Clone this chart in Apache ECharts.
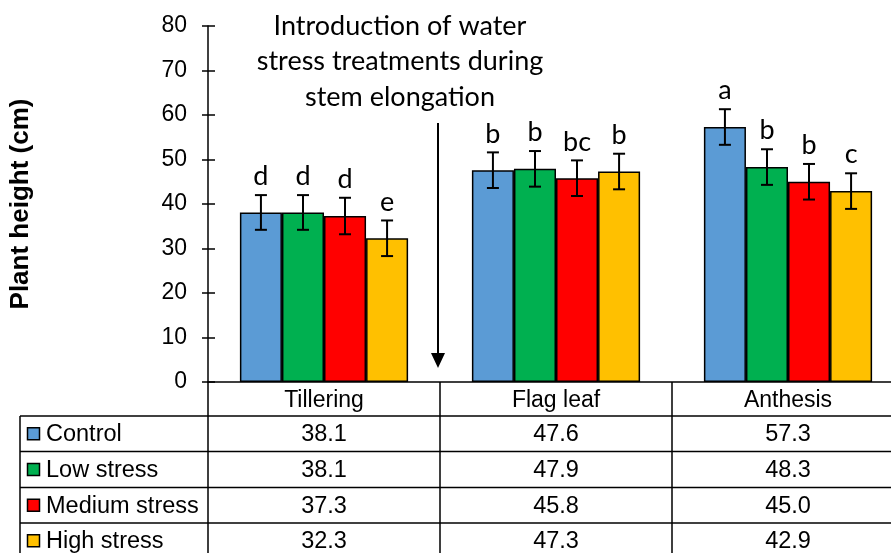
<!DOCTYPE html>
<html><head><meta charset="utf-8">
<script src="https://cdn.jsdelivr.net/npm/echarts@6/dist/echarts.min.js"></script>
<style>html,body{margin:0;padding:0;background:#fff}#c{width:891px;height:553px}</style>
</head><body><div id="c"></div>
<script>
const categories = ['Tillering', 'Flag leaf', 'Anthesis'];
const treatments = ['Control', 'Low stress', 'Medium stress', 'High stress'];
const control = [38.1, 47.6, 57.3];
const lowStress = [38.1, 47.9, 48.3];
const mediumStress = [37.3, 45.8, 45.0];
const highStress = [32.3, 47.3, 42.9];
const controlErr = [3.9, 4.0, 4.0];
const lowStressErr = [3.9, 4.0, 4.0];
const mediumStressErr = [4.1, 4.0, 4.0];
const highStressErr = [4.0, 4.0, 4.0];
const controlLetters = ['d', 'b', 'a'];
const lowStressLetters = ['d', 'b', 'b'];
const mediumStressLetters = ['d', 'bc', 'b'];
const highStressLetters = ['e', 'b', 'c'];
const tableValues = [
  ['38.1', '47.6', '57.3'],
  ['38.1', '47.9', '48.3'],
  ['37.3', '45.8', '45.0'],
  ['32.3', '47.3', '42.9']
];
const annotationLines = ['Introduction of water', 'stress treatments during', 'stem elongation'];
const yTitle = 'Plant height (cm)';

const colors = ['#5B9BD5', '#00B050', '#FF0000', '#FFC000'];
const seriesValues = [control, lowStress, mediumStress, highStress];
const seriesErr = [controlErr, lowStressErr, mediumStressErr, highStressErr];
const seriesLetters = [controlLetters, lowStressLetters, mediumStressLetters, highStressLetters];
const GAP = 0.275;
const ARIAL = 'Liberation Sans, Arial, sans-serif';
const CAL = 'Lato, Carlito, Calibri, sans-serif';

const chart = echarts.init(document.getElementById('c'), null, {renderer: 'canvas'});

const series = [];
seriesValues.forEach((vals, i) => {
  series.push({
    name: treatments[i], type: 'bar', data: vals, barGap: '0%', barCategoryGap: (GAP * 100) + '%',
    itemStyle: {color: colors[i], borderColor: '#000', borderWidth: 1.5},
    z: 2, silent: true
  });
});
seriesValues.forEach((vals, i) => {
  series.push({
    type: 'custom', z: 5, silent: true,
    data: vals.map((v, k) => [k, v, seriesErr[i][k]]),
    renderItem: function (params, api) {
      const k = api.value(0), m = api.value(1), e = api.value(2);
      const c = api.coord([k, m]);
      const bandW = api.size([1, 0])[0];
      const barW = bandW * (1 - GAP) / 4;
      const x = c[0] + (i - 1.5) * barW;
      const yt = api.coord([k, m + e])[1];
      const yb = api.coord([k, m - e])[1];
      const cap = 6;
      const st = {stroke: '#000', lineWidth: 2};
      return {type: 'group', children: [
        {type: 'line', shape: {x1: x, y1: yt, x2: x, y2: yb}, style: st},
        {type: 'line', shape: {x1: x - cap, y1: yt, x2: x + cap, y2: yt}, style: st},
        {type: 'line', shape: {x1: x - cap, y1: yb, x2: x + cap, y2: yb}, style: st},
        {type: 'text', x: x, y: yt - 5, style: {text: seriesLetters[i][params.dataIndex], fill: '#000',
          font: '27px ' + CAL, align: 'center', verticalAlign: 'bottom'}}
      ]};
    }
  });
});

chart.setOption({
  animation: false,
  backgroundColor: '#fff',
  grid: {left: 208, top: 26, width: 696, height: 356, outerBoundsMode: 'none', containLabel: false},
  xAxis: {
    type: 'category', data: categories,
    axisLine: {show: true, lineStyle: {color: '#000', width: 1.5}},
    axisTick: {show: true, length: 180, interval: 0, lineStyle: {color: '#000', width: 1.5}},
    axisLabel: {color: '#000', fontFamily: ARIAL, fontSize: 23, margin: 7, interval: 0},
    splitLine: {show: false}
  },
  yAxis: [{
    type: 'value', min: 0, max: 80, interval: 10,
    name: yTitle, nameLocation: 'middle', nameGap: 174,
    nameTextStyle: {color: '#000', fontFamily: ARIAL, fontSize: 26, fontWeight: 'bold'},
    axisLine: {show: true, lineStyle: {color: '#000', width: 1.5}},
    axisTick: {show: true, length: 6, lineStyle: {color: '#000', width: 1.5}},
    axisLabel: {color: '#000', fontFamily: ARIAL, fontSize: 23, margin: 21},
    splitLine: {show: false}
  }, {
    type: 'value', min: 0, max: 80, interval: 10, position: 'left',
    axisLine: {show: false},
    axisTick: {show: true, inside: true, length: 7, lineStyle: {color: '#000', width: 1.5}},
    axisLabel: {show: false}, splitLine: {show: false}
  }],
  series: series
});

// table & annotations
const rowLines = [416, 451.5, 487.5, 523, 558.5];
const g = [];
const lineSt = {stroke: '#000', lineWidth: 1.5};
for (let r = 0; r < 4; r++) {
  g.push({type: 'line', shape: {x1: 20, y1: rowLines[r], x2: 905, y2: rowLines[r]}, style: lineSt, z: 10});
}
g.push({type: 'line', shape: {x1: 20, y1: rowLines[0], x2: 20, y2: 560}, style: lineSt, z: 10});
for (let r = 0; r < 4; r++) {
  const cy = (rowLines[r] + rowLines[r + 1]) / 2;
  g.push({type: 'rect', shape: {x: 27.5, y: cy - 6, width: 12, height: 12},
    style: {fill: colors[r], stroke: '#000', lineWidth: 1.5}, z: 10});
  g.push({type: 'text', x: 46, y: cy + 1, style: {text: treatments[r], fill: '#000', font: '23.5px ' + ARIAL,
    align: 'left', verticalAlign: 'middle'}, z: 10});
  for (let k = 0; k < categories.length; k++) {
    const cx = chart.convertToPixel({xAxisIndex: 0}, k);
    g.push({type: 'text', x: cx, y: cy + 1, style: {text: tableValues[r][k], fill: '#000', font: '23.5px ' + ARIAL,
      align: 'center', verticalAlign: 'middle'}, z: 10});
  }
}
// annotation text
annotationLines.forEach((t, j) => {
  g.push({type: 'text', x: 400, y: 26 + j * 35.5, style: {text: t, fill: '#000', font: '27px ' + CAL,
    align: 'center', verticalAlign: 'middle'}, z: 10});
});
// arrow
g.push({type: 'line', shape: {x1: 438, y1: 123, x2: 438, y2: 356}, style: {stroke: '#000', lineWidth: 2}, z: 10});
g.push({type: 'polygon', shape: {points: [[431, 353], [445, 353], [438, 368]]}, style: {fill: '#000'}, z: 10});

chart.setOption({graphic: {elements: g}});
</script></body></html>
